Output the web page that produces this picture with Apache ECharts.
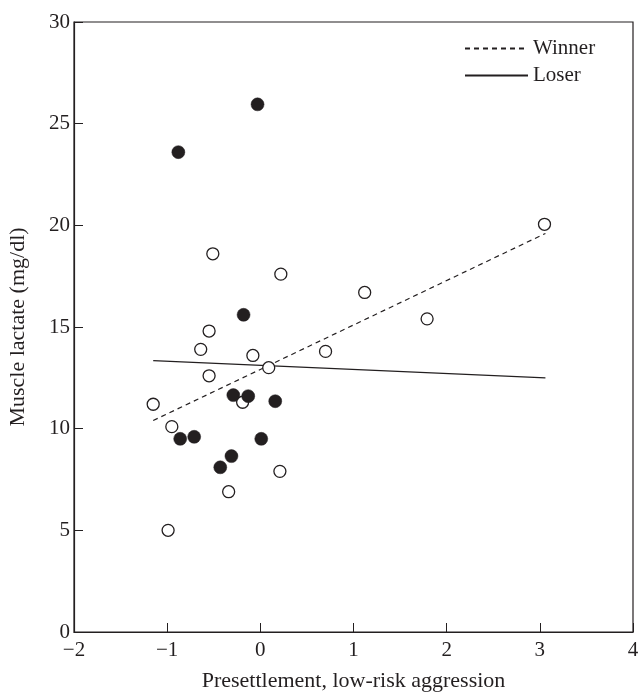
<!DOCTYPE html>
<html lang="en">
<head>
    <meta charset="UTF-8">
    <title>Muscle lactate</title>
    <style>
        html, body { margin: 0; padding: 0; background: #fff; }
        #main { width: 640px; height: 696px; }
    </style>
</head>
<body>
<div id="main"></div>
<script src="https://cdn.jsdelivr.net/npm/echarts@6/dist/echarts.min.js"></script>
<script>
    // winners (open circles): [aggression, lactate]
    const winnerPoints = [
        [-1.15, 11.2], [-0.95, 10.1], [-0.99, 5.0], [-0.64, 13.9], [-0.55, 14.8],
        [-0.55, 12.6], [-0.51, 18.6], [-0.34, 6.9], [-0.19, 11.3], [-0.08, 13.6],
        [0.09, 13.0], [0.22, 17.6], [0.21, 7.9], [0.70, 13.8], [1.12, 16.7],
        [1.79, 15.4], [3.05, 20.05]
    ];
    // losers (filled circles)
    const loserPoints = [
        [-0.03, 25.95], [-0.88, 23.6], [-0.18, 15.6], [-0.29, 11.65], [-0.13, 11.6],
        [0.16, 11.35], [-0.86, 9.5], [-0.71, 9.6], [0.01, 9.5], [-0.31, 8.65],
        [-0.43, 8.1]
    ];
    // fitted lines
    const winnerFit = [[-1.15, 10.4], [3.06, 19.6]];
    const loserFit = [[-1.15, 13.35], [3.06, 12.5]];

    const xTicks = [-2, -1, 0, 1, 2, 3, 4];
    const yTicks = [0, 5, 10, 15, 20, 25, 30];

    const font = '"Liberation Serif", "DejaVu Serif", serif';
    const ink = '#231f20';

    const chart = echarts.init(document.getElementById('main'));

    chart.setOption({
        animation: false,
        backgroundColor: '#fff',
        textStyle: { fontFamily: font, color: ink },
        grid: {
            left: 74, right: 7, top: 22, bottom: 64,
            show: true, borderColor: ink, borderWidth: 1.2,
            containLabel: false,
            outerBoundsMode: 'none'
        },
        legend: {
            data: ['Winner', 'Loser'],
            orient: 'vertical',
            left: 459, top: 33,
            itemWidth: 63, itemHeight: 14, itemGap: 6,
            itemStyle: { opacity: 0 },
            textStyle: { fontFamily: font, fontSize: 21, color: ink }
        },
        xAxis: {
            type: 'value',
            min: xTicks[0], max: xTicks[xTicks.length - 1], interval: 1,
            name: 'Presettlement, low-risk aggression',
            nameLocation: 'middle', nameGap: 38,
            nameTextStyle: { fontFamily: font, fontSize: 22, color: ink },
            axisLine: { show: true, onZero: false, lineStyle: { color: ink, width: 1.2 } },
            axisTick: { show: true, inside: true, length: 9, lineStyle: { color: ink } },
            axisLabel: {
                fontFamily: font, fontSize: 21, color: ink, margin: 8,
                formatter: v => String(v).replace('-', '\u2212')
            },
            splitLine: { show: false }
        },
        yAxis: {
            type: 'value',
            min: yTicks[0], max: yTicks[yTicks.length - 1], interval: 5,
            name: 'Muscle lactate (mg/dl)',
            nameLocation: 'middle', nameGap: 45, nameRotate: 90,
            nameTextStyle: { fontFamily: font, fontSize: 22, color: ink },
            axisLine: { show: true, onZero: false, lineStyle: { color: ink, width: 1.2 } },
            axisTick: { show: true, inside: true, length: 9, lineStyle: { color: ink } },
            axisLabel: { fontFamily: font, fontSize: 21, color: ink, margin: 4 },
            splitLine: { show: false }
        },
        series: [
            {
                name: 'Winner',
                type: 'line',
                data: winnerFit,
                symbol: 'none',
                lineStyle: { color: ink, width: 1.2, type: [5, 4] },
                itemStyle: { color: ink },
                z: 2
            },
            {
                name: 'Loser',
                type: 'line',
                data: loserFit,
                symbol: 'none',
                lineStyle: { color: ink, width: 1.3, type: 'solid' },
                itemStyle: { color: ink },
                z: 2
            },
            {
                name: 'Winner points',
                type: 'scatter',
                data: winnerPoints,
                symbol: 'circle',
                symbolSize: 12,
                itemStyle: { color: '#fff', borderColor: ink, borderWidth: 1.3, opacity: 1 },
                z: 3
            },
            {
                name: 'Loser points',
                type: 'scatter',
                data: loserPoints,
                symbol: 'circle',
                symbolSize: 13,
                itemStyle: { color: ink, borderColor: ink, borderWidth: 0.5, opacity: 1 },
                z: 4
            }
        ]
    });
</script>
</body>
</html>
